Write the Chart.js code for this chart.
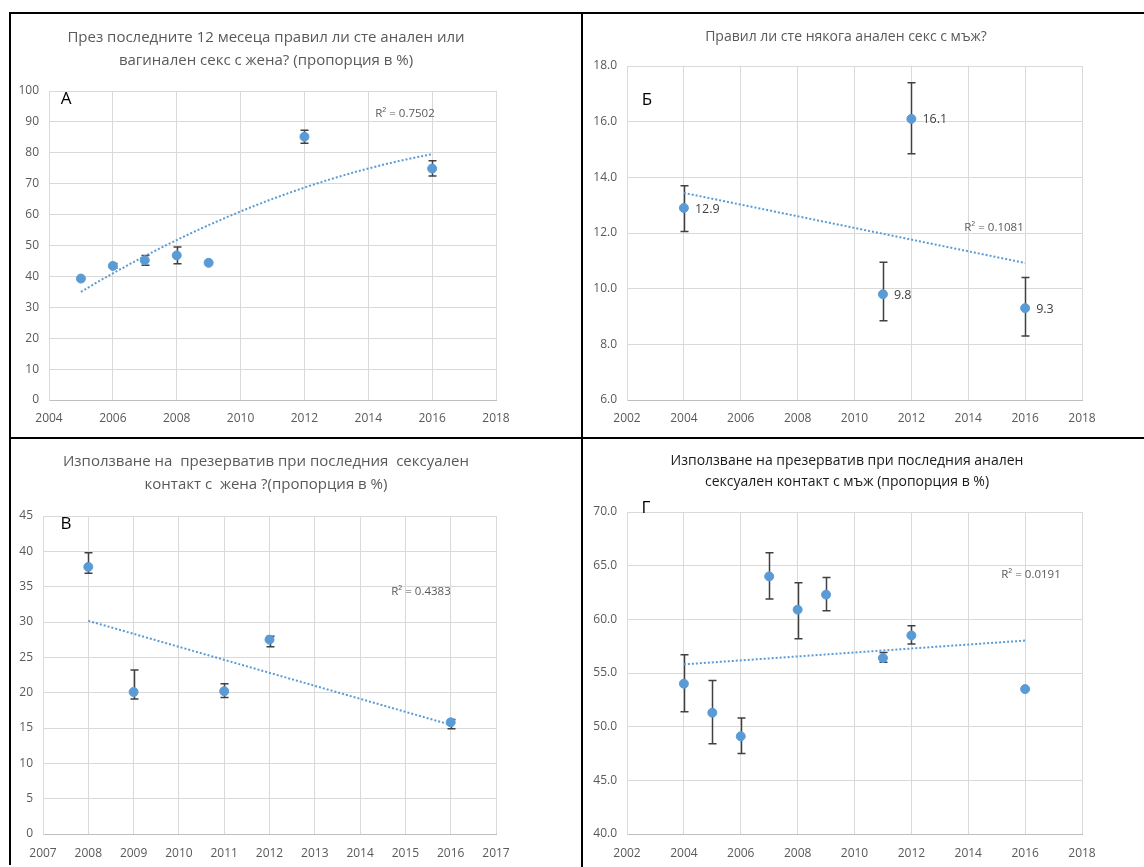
<!DOCTYPE html>
<html>
<head>
<meta charset="utf-8">
<script src="https://cdn.jsdelivr.net/npm/chart.js@4.4.0/dist/chart.umd.min.js"></script>
<style>
  body { margin: 0; background: #fff; width: 1144px; height: 867px; position: relative; overflow: hidden; }
  canvas { position: absolute; }
  .linha { position: absolute; background: #000; }
</style>
</head>
<body>
<!-- molduras dos quatro painéis -->
<div class="linha" style="left:9px;top:12px;width:1135px;height:2px"></div>
<div class="linha" style="left:9px;top:12px;width:2px;height:853px"></div>
<div class="linha" style="left:581px;top:12px;width:2px;height:855px"></div>
<div class="linha" style="left:9px;top:437px;width:1135px;height:2px"></div>

<canvas id="grafA" width="570" height="423" style="left:11px;top:14px"></canvas>
<canvas id="grafB" width="561" height="423" style="left:583px;top:14px"></canvas>
<canvas id="grafC" width="570" height="428" style="left:11px;top:439px"></canvas>
<canvas id="grafD" width="561" height="428" style="left:583px;top:439px"></canvas>

<script>
// Painel А
const anosA = [2005, 2006, 2007, 2008, 2009, 2012, 2016];
const valoresA = [39.3, 43.4, 45.2, 46.8, 44.4, 85.2, 74.9];
const minA = [null, 42.6, 43.6, 44.1, null, 83.1, 72.5];
const maxA = [null, 44.2, 46.8, 49.5, null, 87.3, 77.4];

// Painel Б
const anosB = [2004, 2011, 2012, 2016];
const valoresB = [12.9, 9.8, 16.1, 9.3];
const minB = [12.05, 8.85, 14.85, 8.3];
const maxB = [13.7, 10.95, 17.4, 10.4];

// Painel В
const anosC = [2008, 2009, 2011, 2012, 2016];
const valoresC = [37.8, 20.1, 20.2, 27.5, 15.8];
const minC = [36.9, 19.1, 19.3, 26.5, 14.9];
const maxC = [39.8, 23.2, 21.25, 28.0, 16.2];

// Painel Г
const anosD = [2004, 2005, 2006, 2007, 2008, 2009, 2011, 2012, 2016];
const valoresD = [54.0, 51.3, 49.1, 64.0, 60.9, 62.3, 56.4, 58.5, 53.5];
const minD = [51.4, 48.4, 47.5, 61.9, 58.2, 60.8, 56.0, 57.7, null];
const maxD = [56.7, 54.3, 50.8, 66.2, 63.4, 63.9, 56.9, 59.4, null];

const titulos = [
  ["През последните 12 месеца правил ли сте анален или", "вагинален секс с жена? (пропорция в %)"],
  ["Правил ли сте някога анален секс с мъж?"],
  ["Използване на  презерватив при последния  сексуален", "контакт с  жена ?(пропорция в %)"],
  ["Използване на презерватив при последния анален", "сексуален контакт с мъж (пропорция в %)"]
];
const letras = ["А", "Б", "В", "Г"];
const textosR2 = ["R² = 0.7502", "R² = 0.1081", "R² = 0.4383", "R² = 0.0191"];

const AZUL = "#5B9BD5";

Chart.defaults.font.family = "'Open Sans', sans-serif";
Chart.defaults.font.size = 12;
Chart.defaults.color = "#595959";

// regressão linear simples
function ajusteLinear(xs, ys) {
  const n = xs.length;
  const mx = xs.reduce((a, b) => a + b, 0) / n;
  const my = ys.reduce((a, b) => a + b, 0) / n;
  let sxy = 0, sxx = 0;
  for (let i = 0; i < n; i++) {
    sxy += (xs[i] - mx) * (ys[i] - my);
    sxx += (xs[i] - mx) * (xs[i] - mx);
  }
  const b = sxy / sxx;
  return x => my + b * (x - mx);
}

// polinômio de grau 2 (mínimos quadrados), x deslocado para não estourar
function ajusteQuadratico(xs, ys) {
  const x0 = xs[0];
  const s = [0, 0, 0, 0, 0], t = [0, 0, 0];
  xs.forEach((x, i) => {
    const u = x - x0;
    for (let k = 0; k < 5; k++) s[k] += Math.pow(u, k);
    for (let k = 0; k < 3; k++) t[k] += ys[i] * Math.pow(u, k);
  });
  const det = m => m[0][0] * (m[1][1] * m[2][2] - m[1][2] * m[2][1])
                 - m[0][1] * (m[1][0] * m[2][2] - m[1][2] * m[2][0])
                 + m[0][2] * (m[1][0] * m[2][1] - m[1][1] * m[2][0]);
  const M = [[s[0], s[1], s[2]], [s[1], s[2], s[3]], [s[2], s[3], s[4]]];
  const D = det(M);
  const c = [0, 1, 2].map(col => det(M.map((row, r) => row.map((v, j) => j === col ? t[r] : v))) / D);
  return x => c[0] + c[1] * (x - x0) + c[2] * (x - x0) * (x - x0);
}

function pontosTendencia(xs, f, passo) {
  const pts = [];
  const fim = xs[xs.length - 1];
  for (let x = xs[0]; x <= fim + 1e-9; x += passo) pts.push({ x: x, y: f(x) });
  return pts;
}

// título, letra do painel, R², barras de erro e rótulos
function extras(cfg) {
  return {
    id: "extras",
    beforeDatasetsDraw(chart) {
      const ctx = chart.ctx;
      const sx = chart.scales.x, sy = chart.scales.y;
      ctx.save();
      ctx.strokeStyle = "#404040";
      ctx.lineWidth = 1.5;
      cfg.anos.forEach((ano, i) => {
        if (cfg.min[i] == null) return;
        const px = Math.round(sx.getPixelForValue(ano)) + 0.5;
        const y1 = sy.getPixelForValue(cfg.min[i]);
        const y2 = sy.getPixelForValue(cfg.max[i]);
        ctx.beginPath();
        ctx.moveTo(px, y1); ctx.lineTo(px, y2);
        ctx.moveTo(px - 4, y1); ctx.lineTo(px + 4, y1);
        ctx.moveTo(px - 4, y2); ctx.lineTo(px + 4, y2);
        ctx.stroke();
      });
      ctx.restore();
    },
    afterDraw(chart) {
      const ctx = chart.ctx;
      ctx.save();
      ctx.textAlign = "center";
      ctx.textBaseline = "middle";
      ctx.font = cfg.tamTitulo + "px 'Open Sans', sans-serif";
      ctx.fillStyle = cfg.corTitulo;
      cfg.titulo.forEach((t, i) => ctx.fillText(t, cfg.tituloX, cfg.tituloY[i]));

      ctx.font = "17px 'Open Sans', sans-serif";
      ctx.fillStyle = "#000";
      ctx.fillText(cfg.letra, cfg.letraPos[0], cfg.letraPos[1]);

      ctx.font = "11.5px 'Open Sans', sans-serif";
      ctx.fillStyle = "#595959";
      ctx.fillText(cfg.r2, cfg.r2Pos[0], cfg.r2Pos[1]);

      if (cfg.rotulos) {
        const meta = chart.getDatasetMeta(0);
        ctx.textAlign = "left";
        ctx.font = "12.5px 'Open Sans', sans-serif";
        ctx.fillStyle = "#404040";
        meta.data.forEach((p, i) => ctx.fillText(cfg.valores[i].toFixed(1), p.x + 11, p.y + 1));
      }
      ctx.restore();
    }
  };
}

function criarGrafico(id, cfg) {
  const ctx = document.getElementById(id).getContext("2d");
  new Chart(ctx, {
    type: "scatter",
    data: {
      datasets: [
        {
          data: cfg.anos.map((a, i) => ({ x: a, y: cfg.valores[i] })),
          backgroundColor: AZUL,
          borderColor: AZUL,
          pointRadius: 4.5,
          pointHoverRadius: 4.5
        },
        {
          type: "line",
          data: cfg.tendencia,
          borderColor: AZUL,
          borderWidth: 2,
          borderDash: [2, 2],
          pointRadius: 0,
          fill: false,
          tension: 0
        }
      ]
    },
    options: {
      responsive: false,
      animation: false,
      layout: { padding: cfg.padding },
      plugins: {
        legend: { display: false },
        tooltip: { enabled: false },
        title: { display: false }
      },
      scales: {
        x: {
          type: "linear",
          min: cfg.x[0], max: cfg.x[1],
          grid: { color: "#D9D9D9", drawTicks: false, tickLength: 0 },
          border: { color: "#BFBFBF" },
          ticks: { stepSize: cfg.x[2], padding: cfg.xPad, callback: v => String(v) },
          afterFit: s => { s.height = 30; }
        },
        y: {
          min: cfg.y[0], max: cfg.y[1],
          grid: { color: "#D9D9D9", drawTicks: false, tickLength: 0 },
          border: { color: "#D9D9D9" },
          ticks: { stepSize: cfg.y[2], padding: 10, callback: v => cfg.decimal ? v.toFixed(1) : String(v) },
          afterFit: s => { s.width = cfg.yLarg; }
        }
      }
    },
    plugins: [extras(cfg)]
  });
}

criarGrafico("grafA", {
  anos: anosA, valores: valoresA, min: minA, max: maxA,
  tendencia: pontosTendencia(anosA, ajusteQuadratico(anosA, valoresA), 0.25),
  x: [2004, 2018, 2], y: [0, 100, 10], decimal: false, yLarg: 36,
  padding: { left: 2, right: 85, top: 77, bottom: 7 }, xPad: 11,
  titulo: titulos[0], tamTitulo: 15, tituloX: 255, tituloY: [24, 47], corTitulo: "#595959",
  letra: letras[0], letraPos: [55, 85],
  r2: textosR2[0], r2Pos: [394, 100]
});

criarGrafico("grafB", {
  anos: anosB, valores: valoresB, min: minB, max: maxB,
  tendencia: pontosTendencia(anosB, ajusteLinear(anosB, valoresB), 12),
  x: [2002, 2018, 2], y: [6, 18, 2], decimal: true, yLarg: 42,
  padding: { left: 2, right: 62, top: 52, bottom: 7 }, xPad: 11,
  titulo: titulos[1], tamTitulo: 14, tituloX: 263, tituloY: [23], corTitulo: "#595959",
  letra: letras[1], letraPos: [64, 86],
  r2: textosR2[1], r2Pos: [411, 214],
  rotulos: true
});

criarGrafico("grafC", {
  anos: anosC, valores: valoresC, min: minC, max: maxC,
  tendencia: pontosTendencia(anosC, ajusteLinear(anosC, valoresC), 8),
  x: [2007, 2017, 1], y: [0, 45, 5], decimal: false, yLarg: 30,
  padding: { left: 2, right: 85, top: 77, bottom: 3 }, xPad: 12,
  titulo: titulos[2], tamTitulo: 15, tituloX: 255, tituloY: [23, 46], corTitulo: "#595959",
  letra: letras[2], letraPos: [55, 85],
  r2: textosR2[2], r2Pos: [410, 153]
});

criarGrafico("grafD", {
  anos: anosD, valores: valoresD, min: minD, max: maxD,
  tendencia: pontosTendencia(anosD, ajusteLinear(anosD, valoresD), 12),
  x: [2002, 2018, 2], y: [40, 70, 5], decimal: true, yLarg: 42,
  padding: { left: 2, right: 62, top: 73, bottom: 3 }, xPad: 12,
  titulo: titulos[3], tamTitulo: 14, tituloX: 264, tituloY: [22, 43], corTitulo: "#1a1a1a",
  letra: letras[3], letraPos: [63, 69],
  r2: textosR2[3], r2Pos: [448, 136]
});
</script>
</body>
</html>
